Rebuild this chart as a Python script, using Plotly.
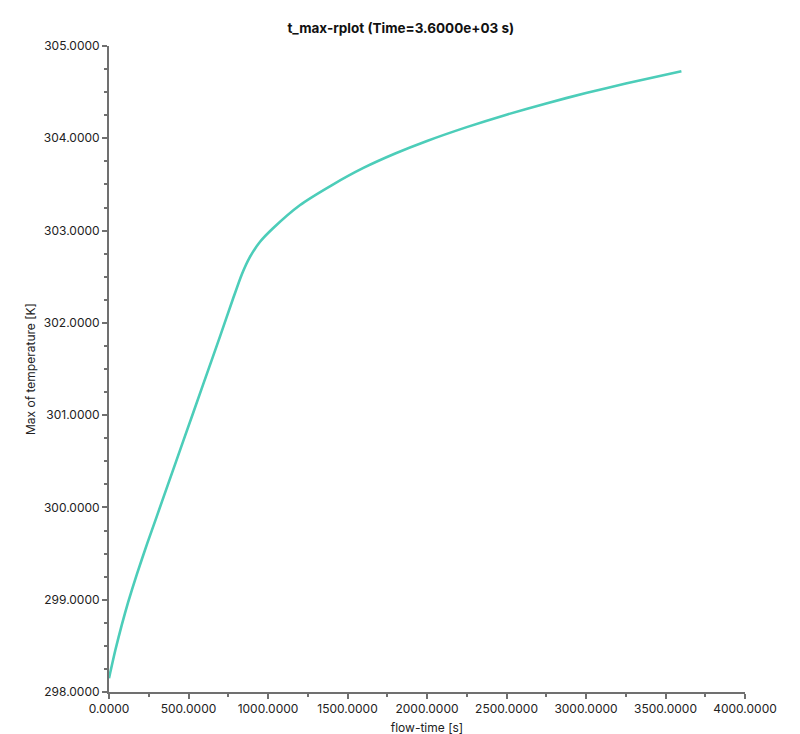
import plotly.graph_objects as go

# flow-time [s] and max temperature [K]
flow_time = [0, 40, 80, 120, 175, 240, 300, 370, 470, 590, 700, 780, 835,
             885, 950, 1030, 1200, 1400, 1600, 1800, 2000, 2250, 2500,
             2750, 3000, 3250, 3600]
t_max = [298.150, 298.455, 298.725, 298.970, 299.275, 299.607, 299.901,
         300.244, 300.734, 301.322, 301.861, 302.261, 302.525, 302.710,
         302.879, 303.023, 303.275, 303.491, 303.679, 303.835, 303.971,
         304.121, 304.256, 304.378, 304.491, 304.593, 304.726]

x_ticks = [0, 500, 1000, 1500, 2000, 2500, 3000, 3500, 4000]
y_ticks = [298, 299, 300, 301, 302, 303, 304, 305]

fig = go.Figure()
fig.add_trace(go.Scatter(x=flow_time, y=t_max, mode="lines",
                         line=dict(color="#4ccdb9", width=2.6, shape="spline", smoothing=0.6),
                         hoverinfo="x+y"))

font_name = "Inter, Noto Sans, sans-serif"
axis_font = dict(family=font_name, size=12, color="#222")
title_font = dict(family=font_name, size=12, color="#222")
grey = "#707070"

# note: the page body has an 8px margin, so margins are shifted by 8px
fig.update_layout(
    width=800, height=734,
    margin=dict(l=101, r=63, t=38, b=50),
    paper_bgcolor="white", plot_bgcolor="white",
    showlegend=False,
    title=dict(text="<b>t_max-rplot (Time=3.6000e+03 s)</b>",
               x=0.491, xref="container", xanchor="center",
               y=0.973, yref="container", yanchor="middle",
               font=dict(family=font_name, size=13.5, color="#111")),
    xaxis=dict(range=[0, 4000], tickvals=x_ticks, tickformat=".4f",
               showgrid=False, zeroline=False, automargin=False,
               showline=True, linecolor=grey, linewidth=2,
               ticks="outside", ticklen=5, tickwidth=1.5, tickcolor=grey,
               minor=dict(dtick=250, ticks="outside", ticklen=3, tickcolor=grey,
                          showgrid=False),
               tickfont=axis_font,
               title=dict(text="flow-time [s]", standoff=8, font=title_font)),
    yaxis=dict(range=[298, 305], tickvals=y_ticks, tickformat=".4f",
               showgrid=False, zeroline=False, automargin=False,
               showline=True, linecolor=grey, linewidth=2,
               ticks="outside", ticklen=5, tickwidth=1.5, tickcolor=grey,
               minor=dict(dtick=0.25, ticks="outside", ticklen=3, tickcolor=grey,
                          showgrid=False),
               tickfont=axis_font,
               title=dict(text="Max of temperature [K]", standoff=6, font=title_font)),
)

fig.write_html("out.html")
